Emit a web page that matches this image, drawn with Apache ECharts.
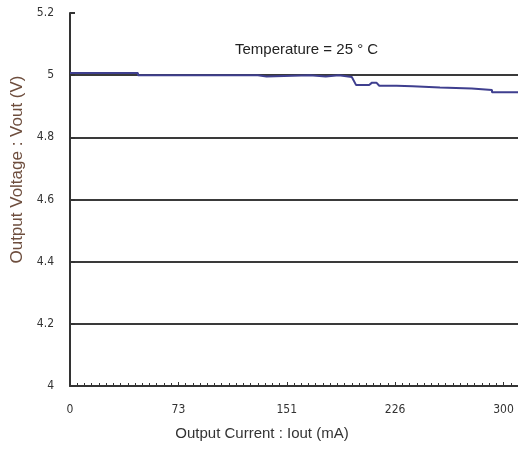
<!DOCTYPE html>
<html><head><meta charset="utf-8">
<script src="https://cdn.jsdelivr.net/npm/echarts@6/dist/echarts.min.js"></script>
<style>html,body{margin:0;padding:0;background:#fff}#c{width:518px;height:452px}</style>
</head><body><div id="c"></div>
<script>
// Output current (mA) and output voltage (V)
const currentMA = [0, 47, 47, 130, 130, 136, 136, 166, 166, 177, 177, 186, 186, 195, 198, 207, 209, 212, 214, 226, 226, 237, 237, 256, 256, 278, 278, 292, 292, 310];
const voltageV  = [5.007, 5.007, 5.0, 5.0, 4.996, 4.996, 5.0, 5.0, 4.996, 4.996, 5.0, 5.0, 4.995, 4.994, 4.968, 4.968, 4.976, 4.976, 4.966, 4.966, 4.964, 4.964, 4.960, 4.960, 4.957, 4.957, 4.952, 4.952, 4.945, 4.945];
// x tick labels shown at quarter positions of the 0-300 mA range
const xTickValues = [0, 75, 150, 225, 300];
const xTickLabels = ['0', '73', '151', '226', '300'];
const yTicks = [4, 4.2, 4.4, 4.6, 4.8, 5, 5.2];
const annotation = 'Temperature = 25 ° C';

const chart = echarts.init(document.getElementById('c'), null, {renderer: 'canvas'});
const gridColors = yTicks.map((v, i) => i === yTicks.length - 1 ? 'rgba(0,0,0,0)' : '#3a3a3a');
const numFont = 'DejaVu Sans Condensed, Liberation Sans Narrow, sans-serif';
chart.setOption({
  animation: false,
  backgroundColor: '#fff',
  grid: {left: 70, top: 13, right: 0, bottom: 66, containLabel: false},
  title: {
    text: annotation, left: 230, top: 37,
    textStyle: {fontFamily: 'Liberation Sans', fontSize: 15, fontWeight: 'normal', color: '#222'}
  },
  xAxis: {
    type: 'value', min: 0, max: 310, interval: 75,
    name: 'Output Current : Iout (mA)', nameLocation: 'middle', nameGap: 40,
    nameTextStyle: {fontFamily: 'Liberation Sans', fontSize: 15, color: '#333', padding: [0, 64, 0, 0]},
    axisLine: {show: true, lineStyle: {color: '#333', width: 2}},
    axisTick: {show: true, inside: true, length: 4, lineStyle: {color: '#333', width: 1}},
    minorTick: {show: true, splitNumber: 15, length: 3, lineStyle: {color: '#333', width: 1}},
    splitLine: {show: false},
    axisLabel: {
      showMaxLabel: false, margin: 18, color: '#333', fontSize: 12, fontFamily: numFont,
      formatter: v => { const i = xTickValues.indexOf(v); return i >= 0 ? xTickLabels[i] : ''; }
    }
  },
  yAxis: {
    type: 'value', min: 4, max: 5.2, interval: 0.2,
    name: 'Output Voltage : Vout (V)', nameLocation: 'middle', nameGap: 44, nameRotate: 90,
    nameTextStyle: {fontFamily: 'Liberation Sans', fontSize: 17, color: '#6e4e3e', padding: [0, 0, 0, 60]},
    axisLine: {show: true, lineStyle: {color: '#333', width: 2}},
    axisTick: {show: true, inside: true, length: 5, lineStyle: {color: '#333', width: 2}},
    splitLine: {show: true, lineStyle: {color: gridColors, width: 2}},
    axisLabel: {margin: 16, color: '#333', fontSize: 12, fontFamily: numFont}
  },
  series: [{
    type: 'line', showSymbol: false, symbol: 'none',
    data: currentMA.map((x, i) => [x, voltageV[i]]),
    lineStyle: {color: '#3f3f8f', width: 2},
    clip: true
  }]
});
</script></body></html>
